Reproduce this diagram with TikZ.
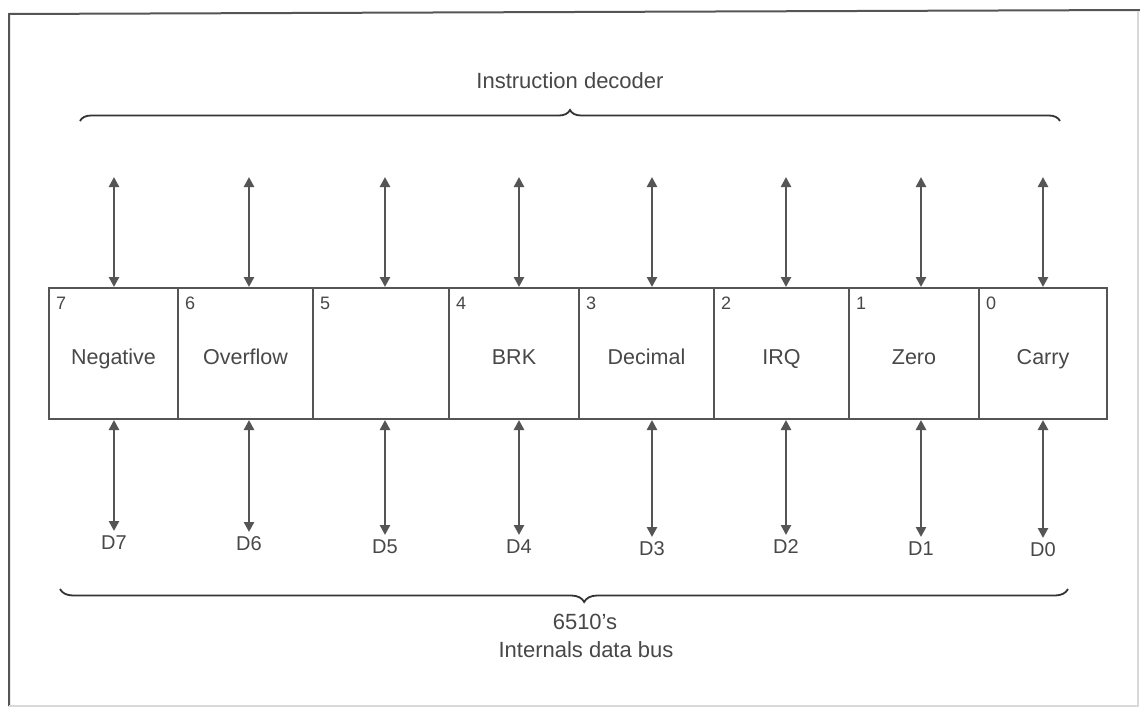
\documentclass[tikz,border=0pt]{standalone}
\usepackage{fontspec}
\setmainfont{Liberation Sans}
\usetikzlibrary{arrows.meta,decorations.pathreplacing,calc}
\definecolor{ink}{HTML}{555555}
\definecolor{txt}{HTML}{484848}
\begin{document}
\begin{tikzpicture}[x=1pt,y=-1pt,
  cellbox/.style={draw=ink,line width=2pt,minimum height=131pt,inner sep=0pt,
    text height=22pt,text depth=0pt,
    text=txt,font=\fontsize{21.5}{24}\selectfont},
  digit/.style={text=txt,inner sep=0pt,font=\fontsize{18}{20}\selectfont},
  dlab/.style={text=txt,inner sep=0pt,font=\fontsize{20}{22}\selectfont},
  bus/.style={draw=ink,line width=2.6pt,{Triangle[length=10pt,width=10pt]}-{Triangle[length=10pt,width=10pt]}},
  bracebig/.style={draw=black!80,line width=1.8pt,decorate},
  caption/.style={text=txt,inner sep=0pt,font=\fontsize{22}{25}\selectfont}]
\useasboundingbox (0,0) rectangle (1140,709);
\fill[white] (0,0) rectangle (1140,709);
% outer frame
\draw[ink,line width=2pt] (9,706) -- (9,14) -- (1140,10);
\draw[gray!30,line width=1.5pt] (1138,11) -- (1138,706) -- (9,706);
% register cells
\foreach \n/\xl/\xr/\lab/\ax/\dy in {%
  7/49/178/Negative/114/543,
  6/178/313/Overflow/249/544,
  5/313/449/{}/385/547,
  4/449/579/BRK/519/547,
  3/579/714/Decimal/652/549,
  2/714/849/IRQ/786/547,
  1/849/979/Zero/921/549,
  0/979/1107/Carry/1043/550}{
  \node[cellbox,minimum width={\xr-\xl}] (c\n) at ({(\xl+\xr)/2},353.5) {\lab};
  \node[digit,anchor=north west] (n\n) at ($(c\n.north west)+(8,10)$) {\n};
  \coordinate (t\n) at (\ax,177);
  \draw[bus] (t\n) -- (t\n |- c\n.north);
  \node[dlab] (d\n) at (\ax,\dy) {D\n};
  \draw[bus,shorten >=12pt] (t\n |- c\n.south) -- (d\n.center);
}
% braces
\draw[bracebig,decoration={brace,amplitude=11pt}] (80,121) -- (1060,121);
\node[caption] (title) at (570,81) {Instruction decoder};
\draw[bracebig,decoration={brace,mirror,amplitude=13pt,aspect=0.52}] (60,589) -- (1068,589);
\node[caption] (bus1) at (585,622) {6510's};
\node[caption] (bus2) at (586,650) {Internals data bus};
\end{tikzpicture}
\end{document}
